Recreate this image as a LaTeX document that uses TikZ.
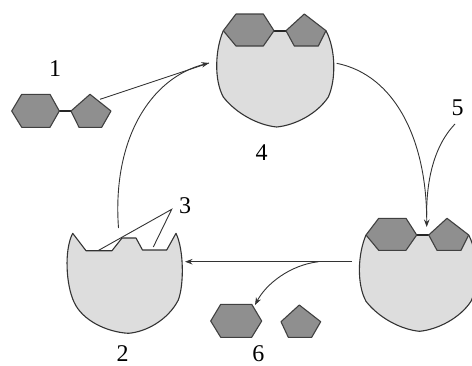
\documentclass[tikz,border=0pt]{standalone}
\usepackage{fontspec}
\setmainfont{Liberation Serif}
\usetikzlibrary{arrows.meta}
\begin{document}
\begin{tikzpicture}[x=1bp,y=-1bp,
  body/.style={fill=gray!27},
  rim/.style={draw=black!80, line width=1.1bp, line join=round},
  ligand/.style={fill=black!44, draw=black!75, line width=1.1bp, line join=round},
  bond/.style={draw=black!85, line width=2.4bp},
  flow/.style={draw=black!80, line width=0.9bp, -{Stealth[length=7.5bp,width=5.5bp]}},
  plain/.style={draw=black!80, line width=0.9bp},
  num/.style={font=\fontsize{24bp}{28bp}\selectfont, inner sep=0pt},
  % enzyme holding both halves of the substrate; origin = left rim corner
  pocket/.pic={
    \fill[body] (0,0) .. controls (-8.3,19.3) and (-9.3,49.3) .. (0,66.3)
      .. controls (13,83) and (35,94.5) .. (53.4,96.3)
      .. controls (72,94.5) and (94,83) .. (105,66.3)
      .. controls (112.7,49.3) and (112.7,19.3) .. (102.7,0) -- cycle;
    \draw[rim] (0,0) .. controls (-8.3,19.3) and (-9.3,49.3) .. (0,66.3)
      .. controls (13,83) and (35,94.5) .. (53.4,96.3)
      .. controls (72,94.5) and (94,83) .. (105,66.3)
      .. controls (112.7,49.3) and (112.7,19.3) .. (102.7,0);
    \draw[bond] (50.7,0) -- (62.7,0);
    \draw[ligand] (0,0) -- (12.7,-16.7) -- (40,-16.7) -- (50.7,0) -- (40,15.3) -- (12.7,15.3) -- cycle;
    \draw[ligand] (62.7,0) -- (81,-16.7) -- (102.7,0) -- (95,15.3) -- (71,15.3) -- cycle;
  }]
\useasboundingbox (0,0) rectangle (472,365);

% free substrate (1)
\draw[bond] (59.3,111) -- (71,111);
\draw[ligand] (11.7,111) -- (21.7,94.3) -- (50,94.3) -- (59.3,111) -- (50,127.3) -- (21.7,127.3) -- cycle;
\draw[ligand] (71,111) -- (90,94.3) -- (111,111) -- (101.7,127.3) -- (79,127.3) -- cycle;

% enzyme-substrate complexes (4) and after cleavage
\pic (esTop) at (223.3,30.7) {pocket};
\pic (esRight) at (366,235) {pocket};

% free enzyme (2) with its binding sites (3)
\draw[body, rim] (72.7,233.3) -- (86,250.7) -- (112,250.7) -- (122,238) -- (136,238)
  -- (142.5,250) -- (166.7,250) -- (176,233.3)
  .. controls (184,250) and (184,285) .. (178.3,300)
  .. controls (168,320) and (146,332) .. (128.3,333.3)
  .. controls (106,332) and (82,320) .. (74,302)
  .. controls (66,285) and (64,250) .. cycle;

% released products (6)
\draw[ligand] (210.7,321) -- (220.7,304.3) -- (251.7,304.3) -- (261.7,321) -- (251.7,337.3) -- (220.7,337.3) -- cycle;
\draw[ligand] (281,321.7) -- (299.3,305) -- (320.7,321.7) -- (311.7,337.3) -- (288.3,337.3) -- cycle;

% connector end points
\coordinate (subOut) at (100,99.3);
\coordinate (enzOut) at (118.5,228);
\coordinate (topIn) at (209,63);
\coordinate (topOut) at (336.7,63.3);
\coordinate (rightIn) at (426.7,227);
\coordinate (waterIn) at (455,124);
\coordinate (rightOut) at (352,261.7);
\coordinate (enzIn) at (185,261.7);
\coordinate (split) at (318.5,261.7);
\coordinate (prodIn) at (255,305);
\coordinate (siteTip) at (171.7,209.3);
\coordinate (siteA) at (98.3,250.5);
\coordinate (siteB) at (153.3,247);

% connectors
\draw[plain] (subOut) -- (topIn);
\draw[flow] (enzOut) .. controls (112,140) and (150,78) .. (topIn);
\draw[flow] (topOut) .. controls (395,75) and (427,140) .. (rightIn);
\draw[plain] (waterIn) .. controls (432,148) and (426.5,185) .. (426.6,215);
\draw[flow] (rightOut) -- (enzIn);
\draw[flow] (split) .. controls (290,265) and (266,284) .. (prodIn);
\draw[plain] (siteA) -- (siteTip) -- (siteB);

% labels
\node[num] (n1) at (55,68.3) {1};
\node[num] (n2) at (122.5,353.3) {2};
\node[num] (n3) at (185,205.5) {3};
\node[num] (n4) at (261.7,152.5) {4};
\node[num] (n5) at (457.5,108) {5};
\node[num] (n6) at (258.3,353.3) {6};
\end{tikzpicture}
\end{document}
